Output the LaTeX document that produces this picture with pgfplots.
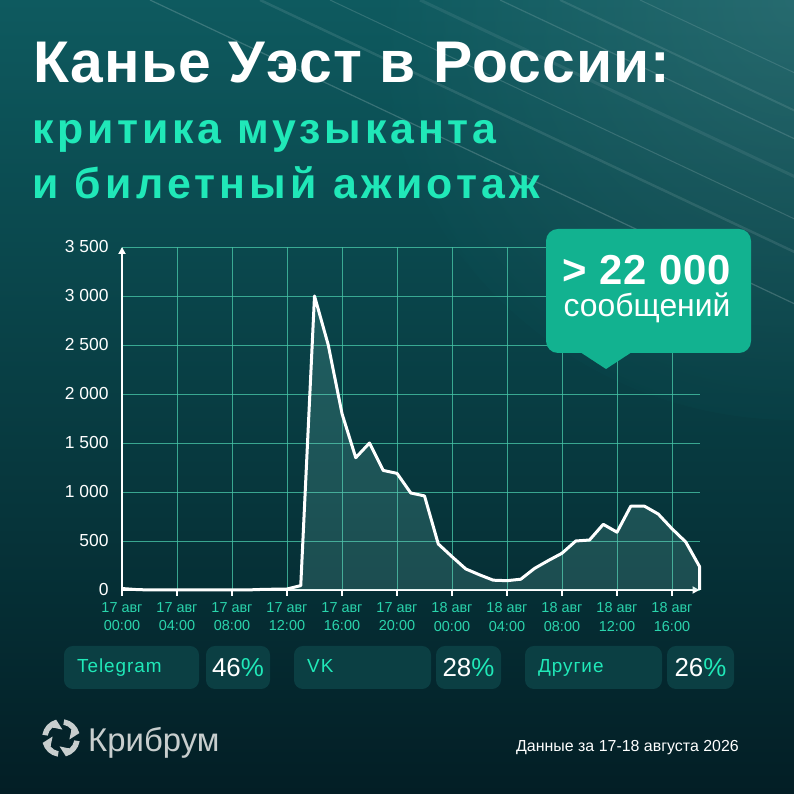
\documentclass[border=0pt]{standalone}
\usepackage{pgfplots}
\pgfplotsset{compat=1.18}
\usepackage{fontspec}
\setmainfont{Liberation Sans}
\usetikzlibrary{arrows.meta}
\definecolor{bgtop}{RGB}{14,90,95}
\definecolor{bgmid}{RGB}{6,52,58}
\definecolor{bgbot}{RGB}{3,30,37}
\definecolor{mint}{RGB}{32,232,184}
\definecolor{labc}{RGB}{42,212,172}
\definecolor{gridc}{RGB}{70,195,165}
\definecolor{callc}{RGB}{18,178,144}
\definecolor{boxc}{RGB}{11,63,67}
\definecolor{logoc}{RGB}{200,206,206}
\pgfdeclareverticalshading{bgshade}{100bp}{color(0bp)=(bgbot); color(25bp)=(bgbot); color(42bp)=(bgmid); color(75bp)=(bgtop); color(100bp)=(bgtop)}
\begin{document}
\begin{tikzpicture}[x=1bp,y=1bp]
\begin{scope}
\clip (0,0) rectangle (794,794);
\shade[shading=bgshade] (0,0) rectangle (794,794);
\shade[inner color=white, outer color=bgtop, opacity=0.10] (794,794) circle (420);
\foreach \s/\w/\o in {150/1.2/0.18, 260/2.5/0.10, 330/1.0/0.15, 420/3/0.08, 500/1.2/0.14, 560/2/0.10, 640/1/0.12}{
  \draw[white, line width=\w, opacity=\o] (\s,794) -- ++(700,-330);
}
\end{scope}
\useasboundingbox (0,0) rectangle (794,794);
\coordinate (O) at (122bp,204bp);
% title
\node[anchor=base west, inner sep=0pt, text=white, font=\fontsize{59}{59}\selectfont\bfseries\addfontfeatures{LetterSpace=2}] at (33,711.7) {Канье Уэст в России:};
\node[anchor=base west, inner sep=0pt, text=mint, font=\fontsize{43}{43}\selectfont\bfseries\addfontfeatures{LetterSpace=9}] at (32,650) {критика музыканта};
\node[anchor=base west, inner sep=0pt, text=mint, font=\fontsize{43}{43}\selectfont\bfseries\addfontfeatures{LetterSpace=10}] at (32,595) {и билетный ажиотаж};
% chart
\begin{axis}[
  at={(O)}, anchor=origin, scale only axis,
  width=577.5bp, height=343bp,
  xmin=0, xmax=42, ymin=0, ymax=3500,
  axis lines=left,
  axis line style={white, line width=2.2bp, -{Triangle[width=7bp,length=7bp]}},
  xtick={0,4,...,40}, ytick={0,500,...,3500},
  xticklabels={17 авг\\00:00,17 авг\\04:00,17 авг\\08:00,17 авг\\12:00,17 авг\\16:00,17 авг\\20:00,18 авг\\00:00,18 авг\\04:00,18 авг\\08:00,18 авг\\12:00,18 авг\\16:00},
  yticklabels={0,500,1 000,1 500,2 000,2 500,3 000,3 500},
  xticklabel style={align=center, text=labc, font=\fontsize{14.5}{18.5}\selectfont, yshift=-3bp},
  yticklabel style={text=white, font=\fontsize{17.5}{17.5}\selectfont, xshift=-4bp},
  grid=major, major grid style={draw=gridc, line width=0.9bp, opacity=0.8},
  xtick style={draw=white, line width=1.5bp}, ytick style={draw=none},
  tick align=outside, major tick length=6bp,
  clip=false,
]
\addplot[draw=none, fill={rgb,255:red,120;green,200;blue,190}, fill opacity=0.2] coordinates {
(0,15)(1,5)(2,0)(3,0)(4,0)(5,0)(6,0)(7,0)(8,0)(9,0)(10,5)(11,8)(12,10)(13,45)(14,3000)(15,2500)(16,1800)(17,1350)(18,1500)(19,1220)(20,1190)(21,990)(22,960)(23,470)(24,340)(25,215)(26,155)(27,100)(28,95)(29,110)(30,220)(31,300)(32,375)(33,500)(34,510)(35,670)(36,590)(37,855)(38,855)(39,775)(40,625)(41,490)(42,240)
} \closedcycle;
\addplot[white, line width=3bp, line join=round, mark=none] coordinates {
(0,15)(1,5)(2,0)(3,0)(4,0)(5,0)(6,0)(7,0)(8,0)(9,0)(10,5)(11,8)(12,10)(13,45)(14,3000)(15,2500)(16,1800)(17,1350)(18,1500)(19,1220)(20,1190)(21,990)(22,960)(23,470)(24,340)(25,215)(26,155)(27,100)(28,95)(29,110)(30,220)(31,300)(32,375)(33,500)(34,510)(35,670)(36,590)(37,855)(38,855)(39,775)(40,625)(41,490)(42,240)(42,0)
};
\end{axis}
% callout
\fill[callc, rounded corners=12] (546,441) rectangle (751,565);
\fill[callc] (580,442) -- (606,425) -- (632,442) -- cycle;
\node[anchor=base, inner sep=0pt, text=white, font=\fontsize{42}{42}\selectfont\bfseries\addfontfeatures{LetterSpace=2}] at (647,509) {> 22 000};
\node[anchor=base, inner sep=0pt, text=white, font=\fontsize{32}{32}\selectfont] at (647,477) {сообщений};
% share boxes
\fill[boxc, rounded corners=9] (64,105) rectangle (199,148);
\fill[boxc, rounded corners=9] (206,105) rectangle (270,148);
\fill[boxc, rounded corners=9] (294,105) rectangle (431,148);
\fill[boxc, rounded corners=9] (436,105) rectangle (501,148);
\fill[boxc, rounded corners=9] (525,105) rectangle (662,148);
\fill[boxc, rounded corners=9] (667,105) rectangle (734,148);
\node[anchor=west, inner sep=0pt, text=mint, font=\fontsize{19}{19}\selectfont\addfontfeatures{LetterSpace=5}] at (77,126) {Telegram};
\node[anchor=west, inner sep=0pt, text=mint, font=\fontsize{19}{19}\selectfont\addfontfeatures{LetterSpace=5}] at (307,128) {VK};
\node[anchor=west, inner sep=0pt, text=mint, font=\fontsize{19}{19}\selectfont\addfontfeatures{LetterSpace=5}] at (538,126) {Другие};
\node[inner sep=0pt, font=\fontsize{26}{26}\selectfont] at (238,126) {\textcolor{white}{46}\textcolor{mint}{\%}};
\node[inner sep=0pt, font=\fontsize{26}{26}\selectfont] at (468.5,126) {\textcolor{white}{28}\textcolor{mint}{\%}};
\node[inner sep=0pt, font=\fontsize{26}{26}\selectfont] at (700.5,126) {\textcolor{white}{26}\textcolor{mint}{\%}};
% footer
\begin{scope}[shift={(61,56)}]
\foreach \a in {0,90,180,270}{
  \fill[logoc, rotate=\a] (15:19) arc[start angle=15, end angle=80, radius=19] -- (80:13.5) arc[start angle=80, end angle=40, radius=13.5] .. controls (25:11) and (10:9) .. (-10:8.5) -- cycle;
}
\end{scope}
\node[anchor=base west, inner sep=0pt, text=logoc, font=\fontsize{33}{33}\selectfont] at (88,42) {Крибрум};
\node[anchor=base east, inner sep=0pt, text=white, font=\fontsize{16}{16}\selectfont] at (739,42) {Данные за 17-18 августа 2026};
\end{tikzpicture}
\end{document}
